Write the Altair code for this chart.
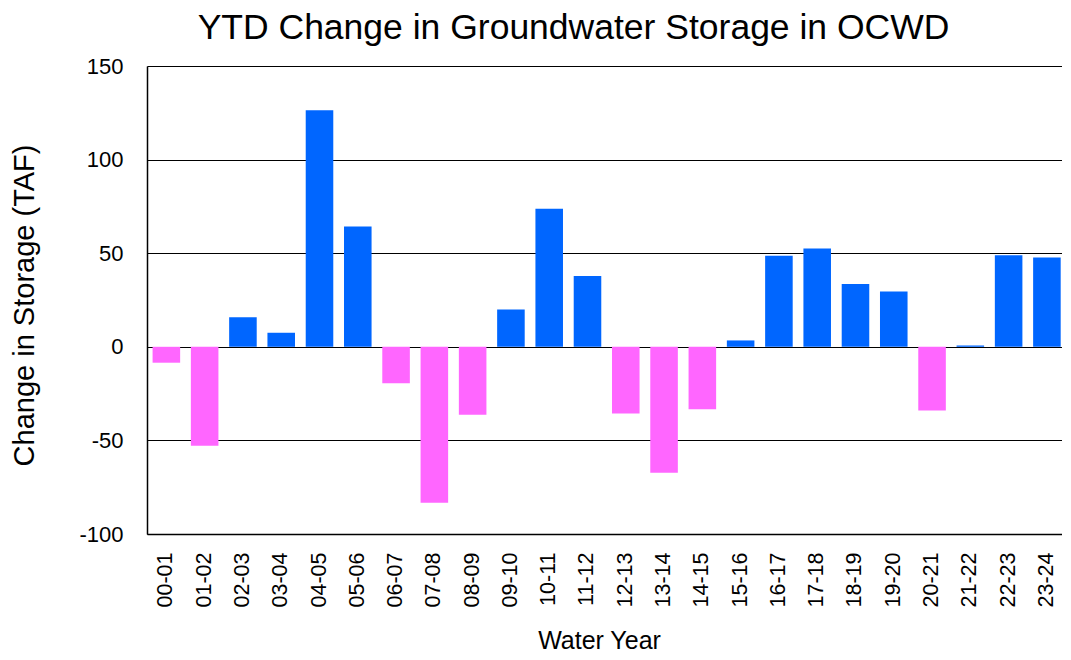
import altair as alt
import pandas as pd

years = ["00-01", "01-02", "02-03", "03-04", "04-05", "05-06", "06-07", "07-08",
         "08-09", "09-10", "10-11", "11-12", "12-13", "13-14", "14-15", "15-16",
         "16-17", "17-18", "18-19", "19-20", "20-21", "21-22", "22-23", "23-24"]
change = [-8.5, -52.8, 15.8, 7.5, 126.4, 64.2, -19.5, -83.3,
          -36.3, 19.9, 73.8, 37.8, -35.6, -67.3, -33.3, 3.4,
          48.6, 52.5, 33.5, 29.6, -34.0, 0.7, 48.9, 47.7]

df = pd.DataFrame({"year": years, "change": change})
df["sign"] = ["neg" if v < 0 else "pos" for v in change]

FONT = "Liberation Sans"

bars = alt.Chart(df).mark_bar(stroke=None).encode(
    x=alt.X("year:N", sort=years,
            scale=alt.Scale(paddingInner=0.28, paddingOuter=0.09, align=0.81),
            axis=alt.Axis(title="Water Year", labelAngle=270, labelAlign="right",
                          labelBaseline="middle", labelPadding=18, labelFontSize=21.5,
                          labelFont=FONT, labelColor="#000", ticks=False,
                          domainColor="#000", domainWidth=1.5,
                          titleFont=FONT, titleFontSize=25, titleFontWeight="normal",
                          titleColor="#000", titleX=452, titleY=114,
                          titleBaseline="alphabetic", titleAlign="center")),
    y=alt.Y("change:Q",
            scale=alt.Scale(domain=[-100, 150], nice=False),
            axis=alt.Axis(title="Change in Storage (TAF)", values=[-100, -50, 0, 50, 100, 150],
                          labelExpr="'' + datum.value",
                          grid=True, gridColor="#000", gridWidth=1,
                          labelFontSize=22, labelFont=FONT, labelColor="#000",
                          labelPadding=24, ticks=False,
                          domainColor="#000", domainWidth=1.5,
                          titleFont=FONT, titleFontSize=29, titleFontWeight="normal",
                          titleColor="#000", titleAngle=270, titleX=-114, titleY=239,
                          titleBaseline="alphabetic", titleAlign="center")),
    color=alt.Color("sign:N",
                    scale=alt.Scale(domain=["pos", "neg"], range=["#0066FF", "#FF66FF"]),
                    legend=None),
)

chart = bars.properties(
    width=915,
    height=468,
    autosize=alt.AutoSizeParams(type="none"),
    padding={"left": 139, "top": 58, "right": 0, "bottom": 118},
    title=alt.TitleParams("YTD Change in Groundwater Storage in OCWD", font=FONT,
                          fontSize=35.5, fontWeight="normal", color="#000",
                          anchor="middle", dx=-31, offset=-19, baseline="alphabetic"),
).configure_view(stroke=None).configure(background="white")

chart.save("out.html", embed_options={"renderer": "svg", "actions": False})
